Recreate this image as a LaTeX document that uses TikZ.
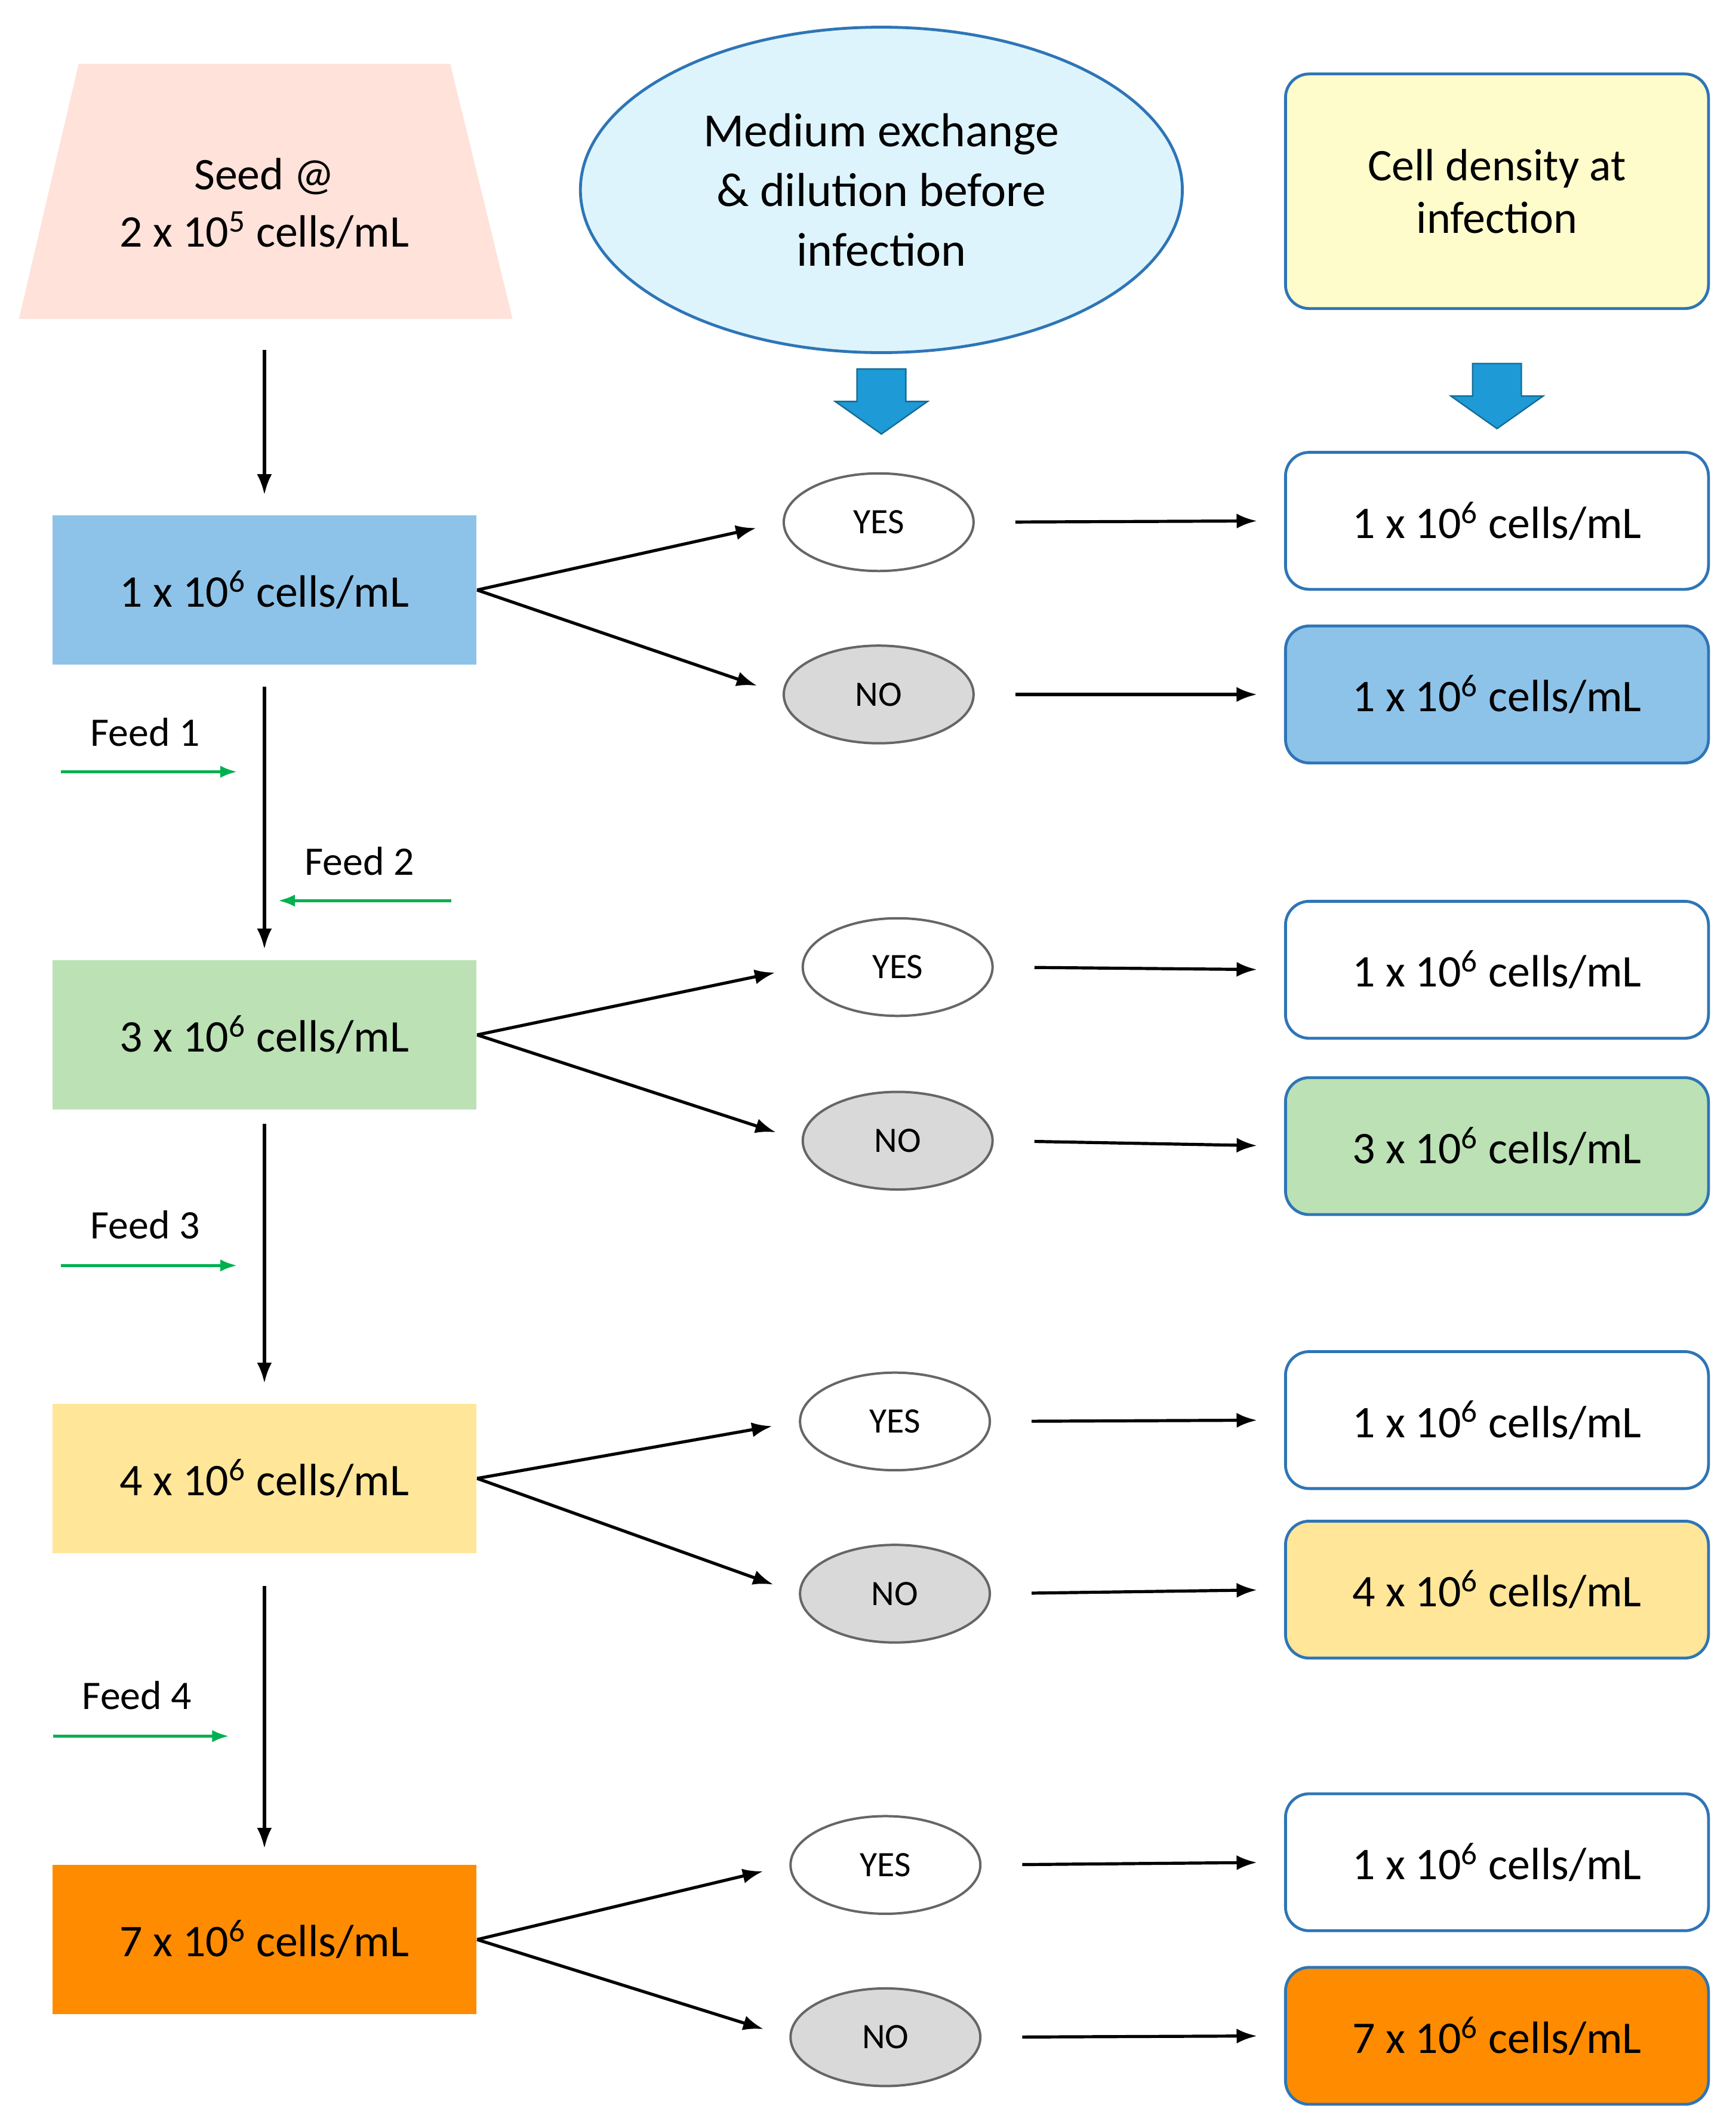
\documentclass[tikz,border=0pt]{standalone}
\usepackage{fontspec}
\setmainfont{Carlito}
\usetikzlibrary{shapes.geometric,arrows.meta}
\definecolor{bord}{HTML}{2E75B6}
\definecolor{cblue}{HTML}{8DC3E9}
\definecolor{cgreen}{HTML}{BBE1B5}
\definecolor{cyel}{HTML}{FFE699}
\definecolor{corg}{HTML}{FF8C00}
\definecolor{fgreen}{HTML}{00B050}
\definecolor{barrow}{HTML}{1E9AD6}
\tikzset{
  lbox/.style={minimum width=6.26cm,minimum height=2.2cm,inner sep=0pt,font=\fontsize{19}{22}\selectfont},
  rbox/.style={draw=bord,line width=1.2pt,rounded corners=0.35cm,minimum width=6.24cm,minimum height=2.02cm,inner sep=0pt,font=\fontsize{19}{22}\selectfont},
  yesell/.style={ellipse,draw=gray!80!black,line width=1pt,fill=white,minimum width=2.8cm,minimum height=1.44cm,inner sep=0pt,font=\fontsize{15}{18}\selectfont},
  noell/.style={yesell,fill=gray!30},
  arr/.style={-{Latex[length=0.3cm,width=0.22cm]},line width=1.3pt},
  harr/.style={arr,shorten <=0.6cm,shorten >=0.4cm},
  farr/.style={-{Latex[length=0.25cm,width=0.18cm]},line width=1.3pt,fgreen},
  feedt/.style={font=\fontsize{17}{20}\selectfont},
  bigarr/.style={fill=barrow,draw=barrow!70!black,line width=0.6pt}
}
\newcommand{\dens}[1]{#1 x 10\textsuperscript{6} cells/mL}
\begin{document}
\begin{tikzpicture}[x=0.02cm,y=-0.02cm]
\useasboundingbox (0,0) rectangle (1280,1566);
\fill[white] (0,0) rectangle (1280,1566);
% top
\fill[orange!15!pink!40] (58,47) -- (332,47) -- (378,235) -- (14,235) -- cycle;
\node (seed) at (195,150) [align=center,font=\fontsize{19}{24}\selectfont] {Seed @\\2 x 10\textsuperscript{5} cells/mL};
\coordinate (seedb) at (195,235);
\node (med) at (650,140) [ellipse,draw=bord,line width=1.2pt,fill=cyan!13,minimum width=8.88cm,minimum height=4.8cm,align=center,font=\fontsize{20}{25}\selectfont] {Medium exchange\\\& dilution before\\infection};
\node (cd) at (1104,141) [rbox,minimum height=3.46cm,fill=yellow!20,align=center] {Cell density at\\infection};
\fill[bigarr] (632,272) -- (668,272) -- (668,296) -- (684,296) -- (650,320) -- (616,296) -- (632,296) -- cycle;
\fill[bigarr] (1086,268) -- (1122,268) -- (1122,292) -- (1138,292) -- (1104,316) -- (1070,292) -- (1086,292) -- cycle;
% left boxes
\node (l1) at (195,435) [lbox,fill=cblue] {\dens{1}};
\node (l2) at (195,763) [lbox,fill=cgreen] {\dens{3}};
\node (l3) at (195,1090) [lbox,fill=cyel] {\dens{4}};
\node (l4) at (195,1430) [lbox,fill=corg] {\dens{7}};
\draw[arr,shorten <=0.46cm,shorten >=0.3cm] (seedb) -- (l1);
\draw[arr,shorten <=0.32cm,shorten >=0.16cm] (l1) -- (l2);
\draw[arr,shorten <=0.2cm,shorten >=0.3cm] (l2) -- (l3);
\draw[arr,shorten <=0.48cm,shorten >=0.24cm] (l3) -- (l4);
% feeds
\node (f1) at (107,540) [feedt] {Feed 1};
\coordinate (f1a) at (45,569); \coordinate (f1b) at (175,569);
\draw[farr] (f1a) -- (f1b);
\node (f2) at (265,635) [feedt] {Feed 2};
\coordinate (f2a) at (333,664); \coordinate (f2b) at (205,664);
\draw[farr] (f2a) -- (f2b);
\node (f3) at (107,903) [feedt] {Feed 3};
\coordinate (f3a) at (45,933); \coordinate (f3b) at (175,933);
\draw[farr] (f3a) -- (f3b);
\node (f4) at (101,1250) [feedt] {Feed 4};
\coordinate (f4a) at (39,1280); \coordinate (f4b) at (169,1280);
\draw[farr] (f4a) -- (f4b);
% ellipses
\node (y1) at (648,385) [yesell] {YES};
\node (n1) at (648,512) [noell] {NO};
\node (y2) at (662,713) [yesell] {YES};
\node (n2) at (662,841) [noell] {NO};
\node (y3) at (660,1048) [yesell] {YES};
\node (n3) at (660,1175) [noell] {NO};
\node (y4) at (653,1375) [yesell] {YES};
\node (n4) at (653,1502) [noell] {NO};
% right boxes
\node (ry1) at (1104,384) [rbox,fill=white] {\dens{1}};
\node (rn1) at (1104,512) [rbox,fill=cblue] {\dens{1}};
\node (ry2) at (1104,715) [rbox,fill=white] {\dens{1}};
\node (rn2) at (1104,845) [rbox,fill=cgreen] {\dens{3}};
\node (ry3) at (1104,1047) [rbox,fill=white] {\dens{1}};
\node (rn3) at (1104,1172) [rbox,fill=cyel] {\dens{4}};
\node (ry4) at (1104,1373) [rbox,fill=white] {\dens{1}};
\node (rn4) at (1104,1501) [rbox,fill=corg] {\dens{7}};
\foreach \i in {1,2,3,4}{
  \draw[arr,shorten >=0.4cm] (l\i.east) -- (y\i.west);
  \draw[arr,shorten >=0.4cm] (l\i.east) -- (n\i.west);
  \draw[harr] (y\i.east) -- (ry\i.west);
  \draw[harr] (n\i.east) -- (rn\i.west);
}
\end{tikzpicture}
\end{document}
